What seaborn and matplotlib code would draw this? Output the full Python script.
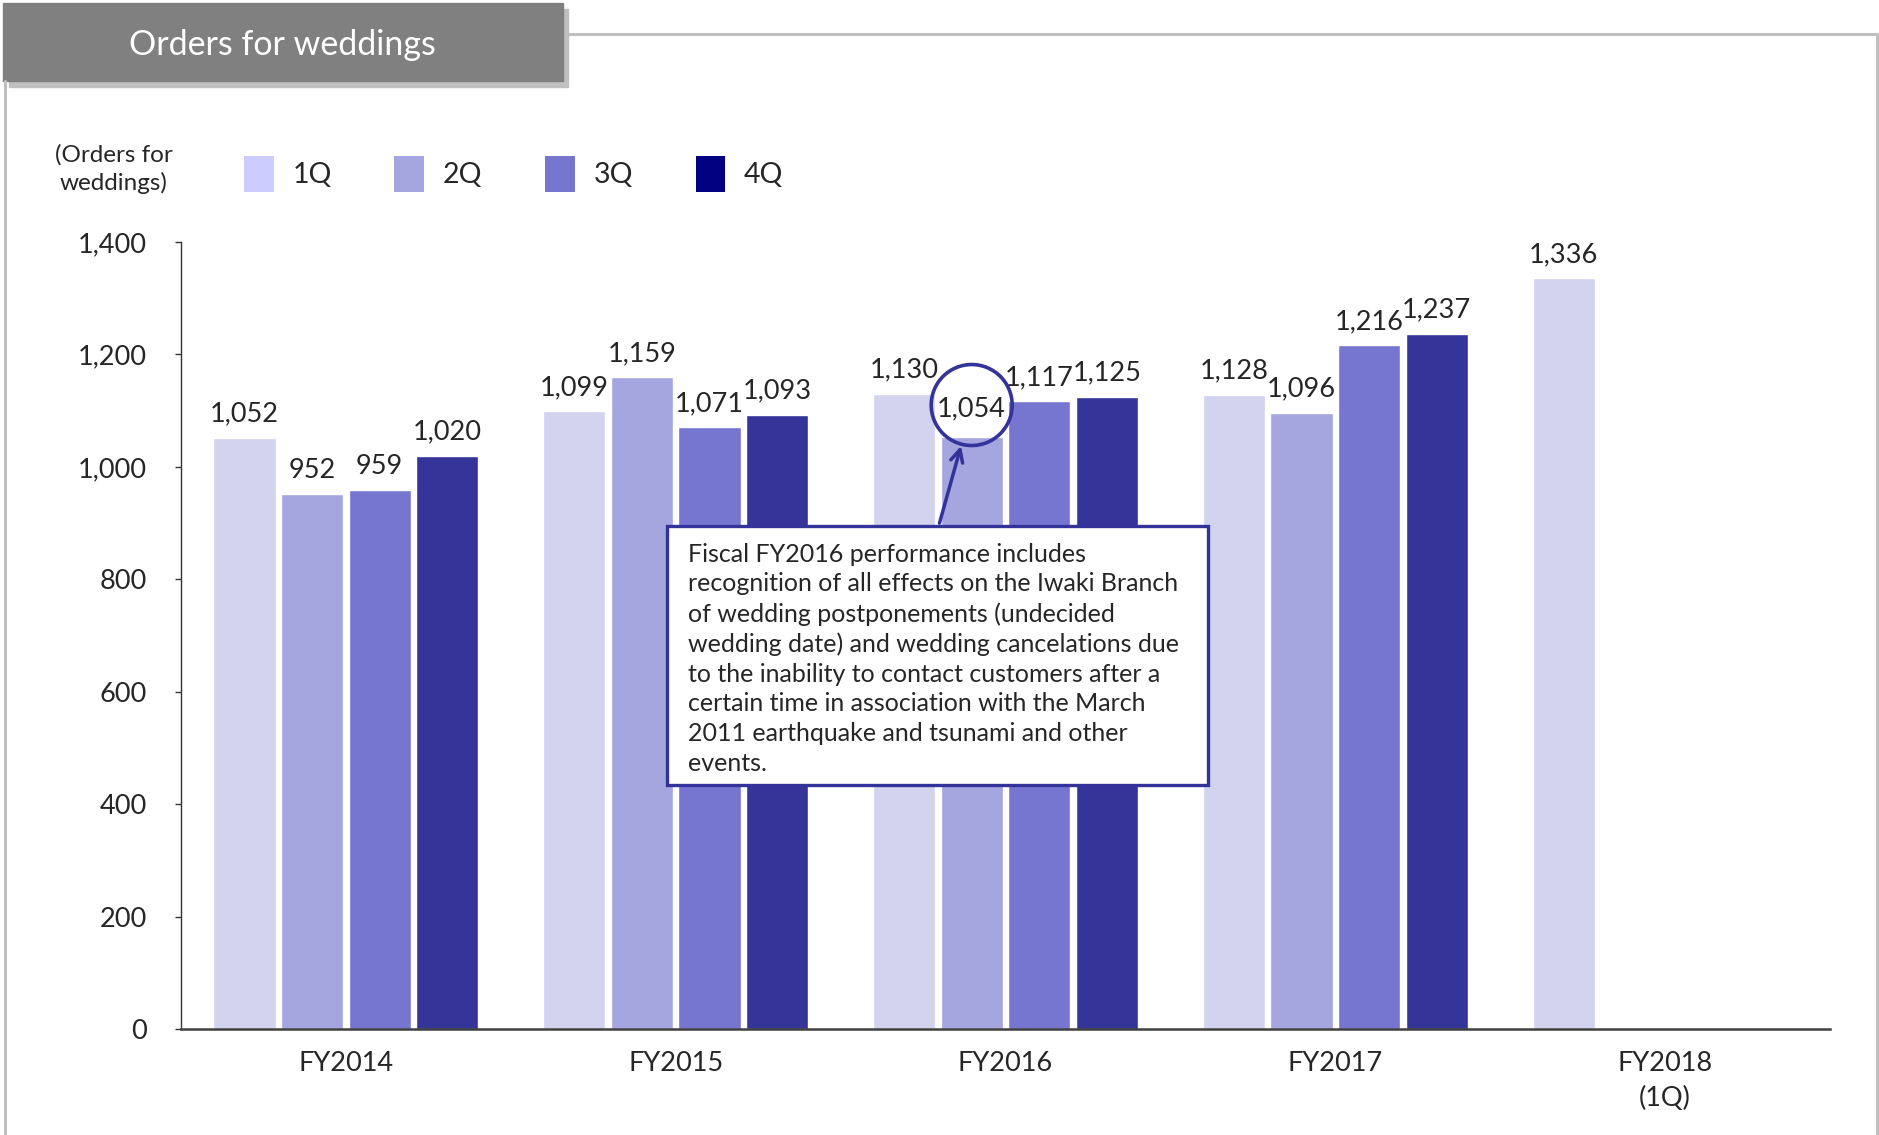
import pandas as pd
import numpy as np
import matplotlib
matplotlib.use("Agg")
import matplotlib.pyplot as plt
from matplotlib.patches import Patch, Rectangle
from matplotlib.lines import Line2D
import seaborn as sns

# data
years = ["FY2014", "FY2015", "FY2016", "FY2017", "FY2018"]
year_labels = ["FY2014", "FY2015", "FY2016", "FY2017", "FY2018\n(1Q)"]
quarters = ["1Q", "2Q", "3Q", "4Q"]
q1 = [1052, 1099, 1130, 1128, 1336]
q2 = [952, 1159, 1054, 1096]
q3 = [959, 1071, 1117, 1216]
q4 = [1020, 1093, 1125, 1237]

bar_colors = ["#D2D3EF", "#A5A5E0", "#7676D0", "#353599"]
legend_colors = ["#CCCCFF", "#A5A5E0", "#7676CF", "#000080"]
note = ("Fiscal FY2016 performance includes\n"
        "recognition of all effects on the Iwaki Branch\n"
        "of wedding postponements (undecided\n"
        "wedding date) and wedding cancelations due\n"
        "to the inability to contact customers after a\n"
        "certain time in association with the March\n"
        "2011 earthquake and tsunami and other\n"
        "events.")

rows = []
for q, vals in zip(quarters, [q1, q2, q3, q4]):
    for y, v in zip(years, vals):
        rows.append({"Year": y, "Quarter": q, "Orders": v})
df = pd.DataFrame(rows)

sns.set_style("white")
plt.rcParams["font.family"] = ["Lato", "DejaVu Sans"]

W, H = 1879, 1135
fig = plt.figure(figsize=(W / 100, H / 100), dpi=100)

def fx(px):
    return px / W

def fy(py):
    return 1 - py / H

# panel frame and header
fig.add_artist(Line2D([fx(568), fx(1877), fx(1877)], [fy(34), fy(34), fy(1135)],
                      color="#BFBFBF", lw=2.2))
fig.add_artist(Line2D([fx(5), fx(5)], [fy(81), fy(1135)], color="#BFBFBF", lw=2.2))
fig.add_artist(Rectangle((fx(9), fy(87)), fx(559), fy(0) - fy(78),
                         color="#C0C0C0", transform=fig.transFigure))
fig.add_artist(Rectangle((fx(3), fy(81)), fx(560), fy(0) - fy(78),
                         color="#808080", transform=fig.transFigure))
fig.text(fx(282), fy(45), "Orders for weddings", color="white", fontsize=24.5,
         ha="center", va="center")
fig.text(fx(114), fy(169), "(Orders for\nweddings)", fontsize=17.5, ha="center",
         va="center", linespacing=1.35)

ax = fig.add_axes([fx(181), fy(1029), fx(1830) - fx(181), fy(242) - fy(1029)])
sns.barplot(data=df, x="Year", y="Orders", hue="Quarter", order=years,
            hue_order=quarters, palette=bar_colors, width=0.82, gap=0.08,
            saturation=1, legend=False, ax=ax)

labels = []
for c in ax.containers:
    labels.append(ax.bar_label(c, fmt="{:,.0f}", padding=8, fontsize=19.5))

# the circled FY2016 2Q label sits a bit higher
lbl = labels[1][years.index("FY2016")]
lbl.xyann = (lbl.xyann[0], lbl.xyann[1] + 3)

ax.set_ylim(0, 1400)
ax.set_xlim(-0.5, 4.5)
ax.set_yticks(range(0, 1401, 200))
ax.set_yticklabels([f"{v:,}" for v in range(0, 1401, 200)], fontsize=19.5)
ax.set_xticks(range(len(years)))
ax.set_xticklabels(year_labels, fontsize=19.5, linespacing=1.5, va="top")
ax.set_xticks(np.arange(-0.5, 5, 1), minor=True)
ax.tick_params(axis="x", which="major", length=0, pad=16)
ax.tick_params(axis="x", which="minor", direction="in", length=7, width=1, color="#333333")
ax.tick_params(axis="y", which="major", direction="out", length=4.5, width=1,
               pad=20, color="#333333", left=True)
ax.set_xlabel("")
ax.set_ylabel("")
for s in ["top", "right"]:
    ax.spines[s].set_visible(False)
ax.spines["left"].set_color("#333333")
ax.spines["left"].set_linewidth(1)
ax.spines["bottom"].set_color("#404040")
ax.spines["bottom"].set_linewidth(1.8)

# highlight circle + note
slot = 0.82 / 4
x_hl = years.index("FY2016") - 1.5 * slot + slot
v_hl = q2[years.index("FY2016")]
ax.scatter([x_hl], [v_hl + 56], s=3400, facecolors="none", edgecolors="#333399",
           linewidths=2.6, zorder=5)
ax.add_patch(Rectangle((0.2947, 0.31), 0.3281, 0.3291, transform=ax.transAxes,
                       facecolor="white", edgecolor="#333399", lw=2.4, zorder=6))
ax.text(0.3075, 0.618, note, transform=ax.transAxes, fontsize=18, ha="left",
        va="top", linespacing=1.35, zorder=7)
ax.annotate("", xy=(x_hl - 0.03, v_hl - 12), xytext=(x_hl - 0.10, 895),
            arrowprops=dict(arrowstyle="->", lw=2.5, color="#333399",
                            mutation_scale=22), zorder=7)

handles = [Patch(facecolor=c, edgecolor="none") for c in legend_colors]
fig.legend(handles, quarters, loc="center left", bbox_to_anchor=(fx(244), fy(174)),
           ncol=4, frameon=False, fontsize=20.5, handlelength=1.05, handleheight=1.6,
           handletextpad=0.65, columnspacing=2.2, borderpad=0, borderaxespad=0)

fig.savefig("out.png", dpi=100)
